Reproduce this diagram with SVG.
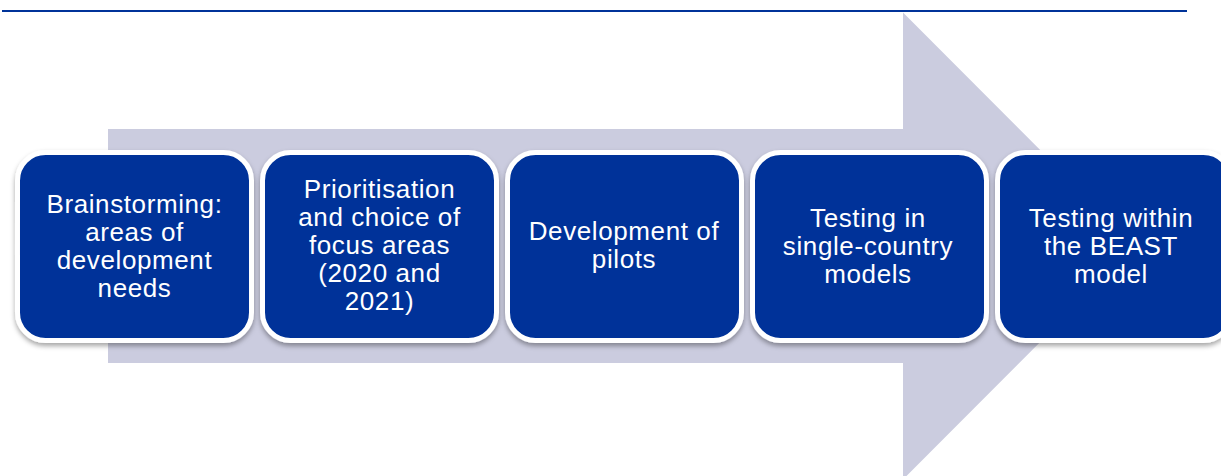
<svg xmlns="http://www.w3.org/2000/svg" width="1221" height="476" viewBox="0 0 1221 476">
<style>
.box{fill:#003399;stroke:#ffffff;stroke-width:5;filter:url(#sh)}
.t{font-family:"Liberation Sans",Arial,sans-serif;font-size:26px;letter-spacing:0.6px;fill:#ffffff;text-anchor:middle}
</style>
<defs>
<filter id="sh" x="-10%" y="-10%" width="120%" height="125%">
<feDropShadow dx="0" dy="3" stdDeviation="2.5" flood-color="#000000" flood-opacity="0.35"/>
</filter>
</defs>
<rect width="1221" height="476" fill="#ffffff"/>
<line x1="2" y1="11" x2="1187" y2="11" stroke="#003399" stroke-width="2"/>
<g id="connectors">
<polygon points="108,129 903,129 903,12.5 1136,246 903,479.5 903,363 108,363" fill="#CBCCDF"/>
</g>
<g id="n1">
<rect class="box" x="17.5" y="152.5" width="234" height="188" rx="28"/>
<text class="t" x="134.5"><tspan x="134.5" y="213">Brainstorming:</tspan><tspan x="134.5" y="241">areas of</tspan><tspan x="134.5" y="269">development</tspan><tspan x="134.5" y="297">needs</tspan></text>
</g>
<g id="n2">
<rect class="box" x="262.5" y="152.5" width="234" height="188" rx="28"/>
<text class="t" x="379.5"><tspan x="379.5" y="198">Prioritisation</tspan><tspan x="379.5" y="226">and choice of</tspan><tspan x="379.5" y="254">focus areas</tspan><tspan x="379.5" y="282">(2020 and</tspan><tspan x="379.5" y="310">2021)</tspan></text>
</g>
<g id="n3">
<rect class="box" x="507.5" y="152.5" width="234" height="188" rx="28"/>
<text class="t" x="624"><tspan x="624" y="240">Development of</tspan><tspan x="624" y="268">pilots</tspan></text>
</g>
<g id="n4">
<rect class="box" x="752.5" y="152.5" width="234" height="188" rx="28"/>
<text class="t" x="868"><tspan x="868" y="227">Testing in</tspan><tspan x="868" y="255">single-country</tspan><tspan x="868" y="283">models</tspan></text>
</g>
<g id="n5">
<rect class="box" x="997.5" y="152.5" width="234" height="188" rx="28"/>
<text class="t" x="1111"><tspan x="1111" y="227">Testing within</tspan><tspan x="1111" y="255">the BEAST</tspan><tspan x="1111" y="283">model</tspan></text>
</g>
</svg>
